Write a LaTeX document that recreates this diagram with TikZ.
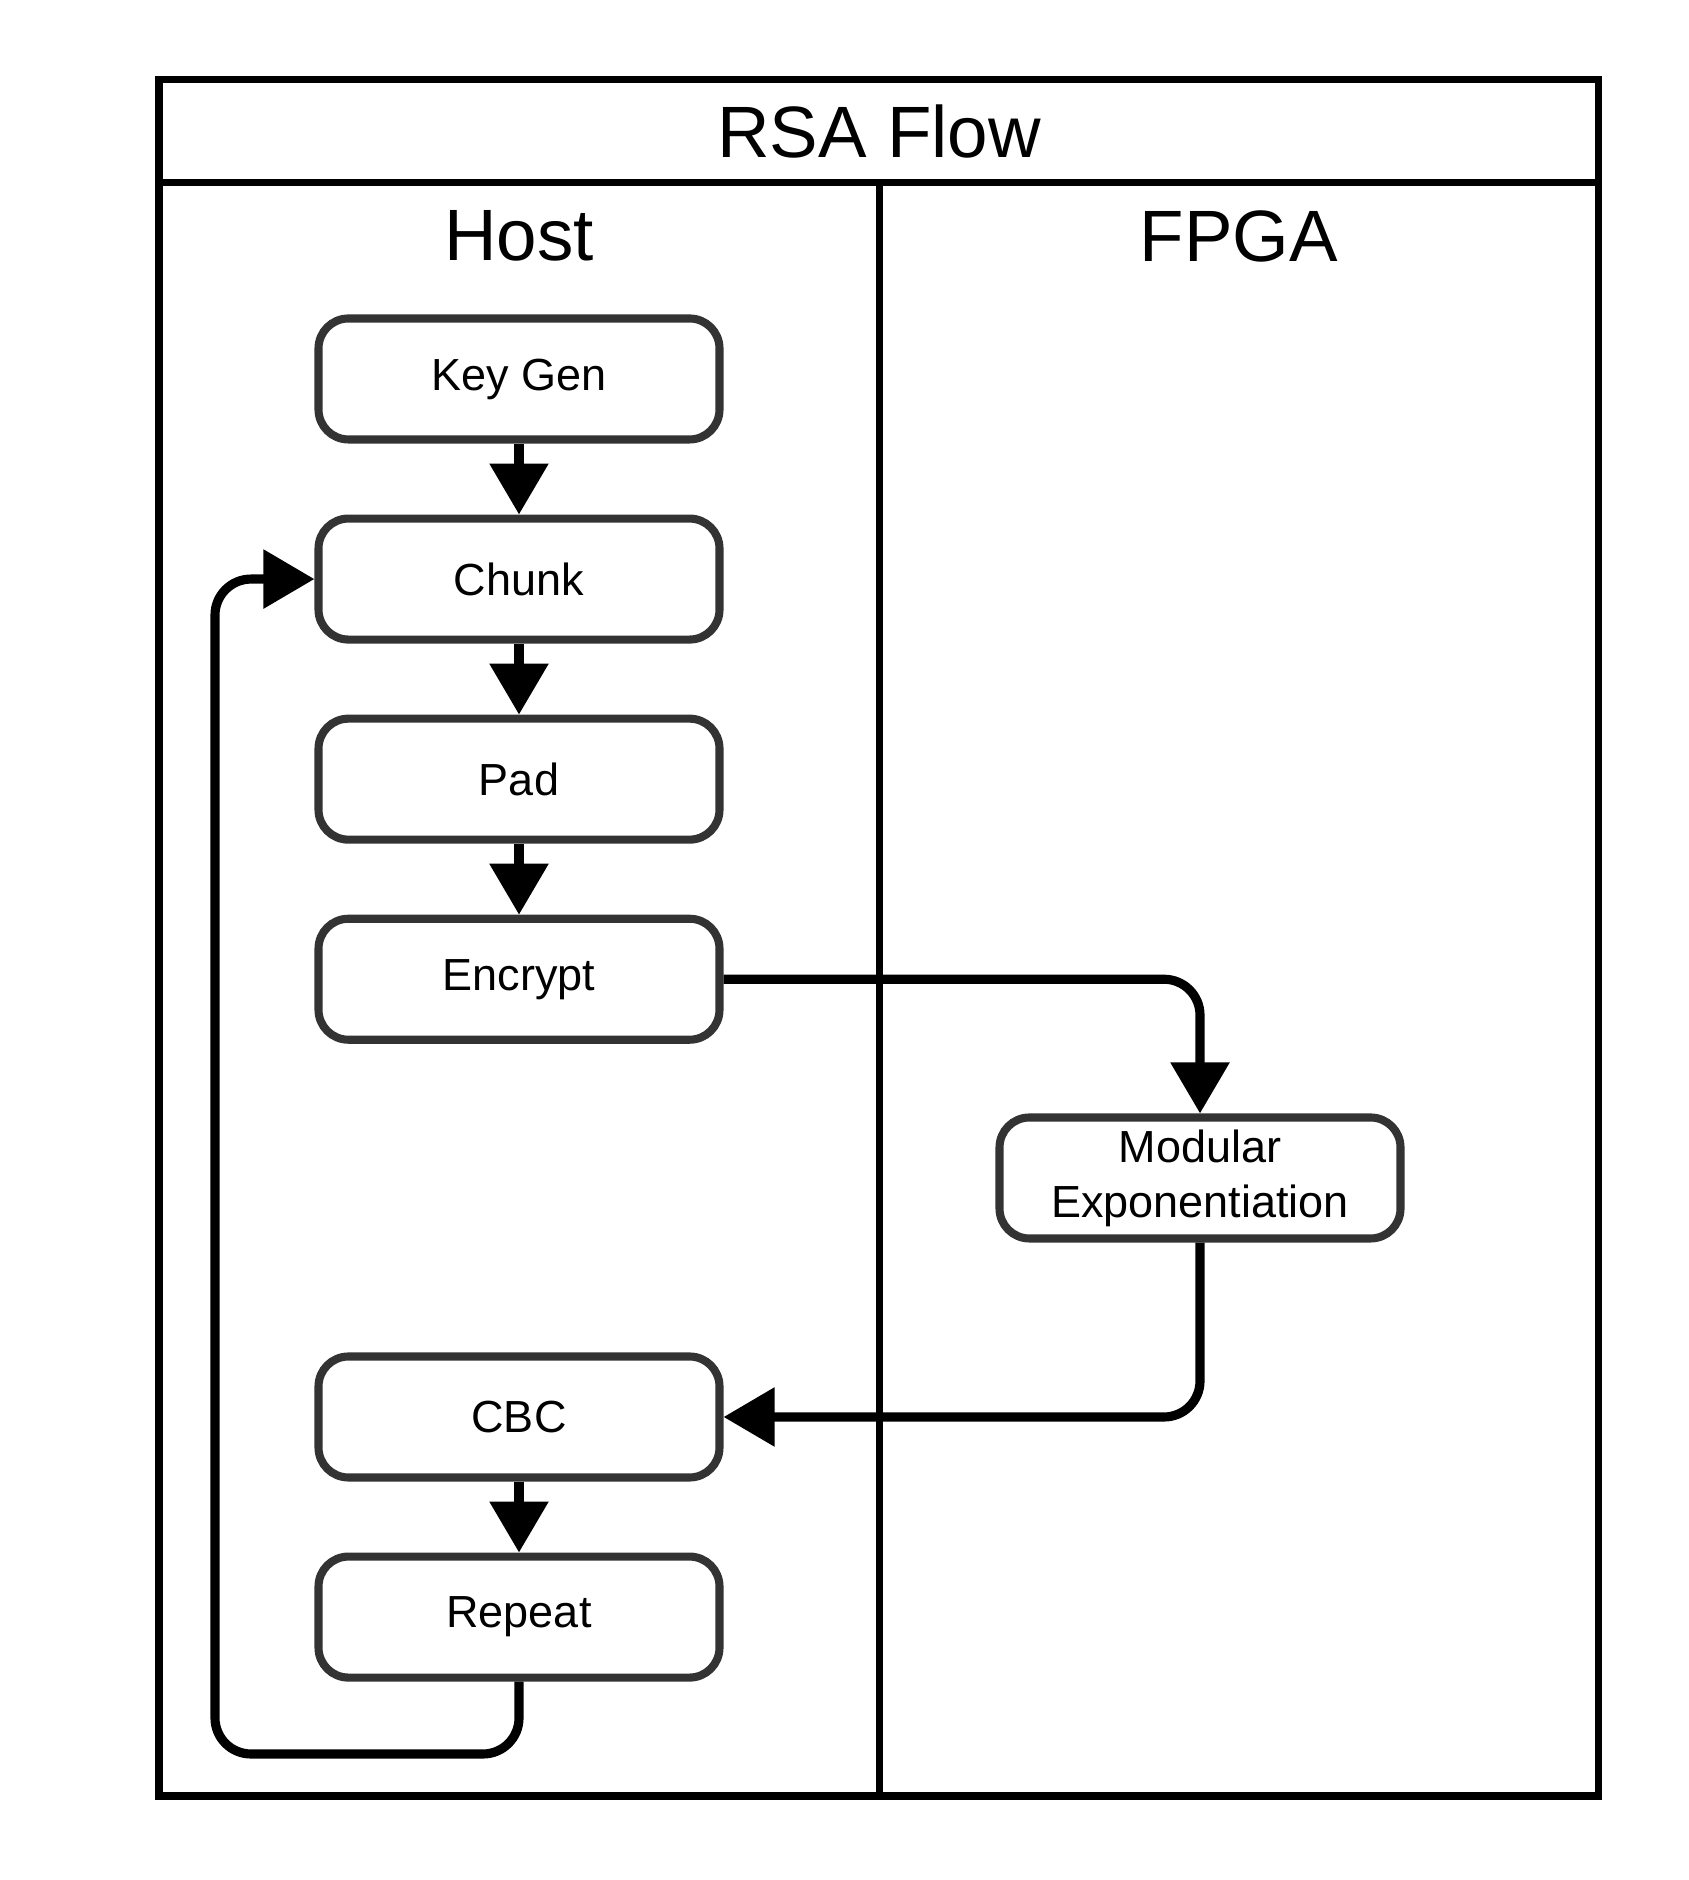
\documentclass[tikz,border=0pt]{standalone}
\usepackage{fontspec}
\setmainfont{Liberation Sans}
\usetikzlibrary{positioning, arrows.meta}
\definecolor{boxEdge}{HTML}{333333}
\tikzset{
    LaneTitle/.style={font=\fontsize{20.7}{24}\selectfont},
    StepBox/.style={draw=boxEdge, line width=2.3pt, rounded corners=0.3cm, minimum width=4.01cm, minimum height=1.21cm, align=center, font=\fontsize{12.8}{15.6}\selectfont, fill=white},
    FlowArrow/.style={-{Triangle[length=0.51cm, width=0.57cm]}, line width=2.6pt, rounded corners=0.36cm},
    FrameLine/.style={line width=2pt}
}

\begin{document}
\begin{tikzpicture}
    \useasboundingbox (0, 0) rectangle (16.88, 18.80);

    % 泳道框架
    \draw[FrameLine] (1.59, 0.84) rectangle (15.98, 18.00);
    \draw[FrameLine] (1.59, 16.97) -- (15.98, 16.97);
    \draw[FrameLine] (8.79, 0.84) -- (8.79, 16.97);

    \node[LaneTitle] (title) at (8.79, 17.48) {RSA Flow};
    \node[LaneTitle] (host) at (5.19, 16.44) {Host};
    \node[LaneTitle] (fpga) at (12.39, 16.44) {FPGA};

    % Host 步骤
    \node[StepBox] (keygen) at (5.19, 15.01) {Key Gen};
    \node[StepBox, below=0.71cm of keygen] (chunk) {Chunk};
    \node[StepBox, below=0.71cm of chunk] (pad) {Pad};
    \node[StepBox, below=0.71cm of pad] (encrypt) {Encrypt};
    \node[StepBox] (cbc) at (5.19, 4.63) {CBC};
    \node[StepBox, below=0.71cm of cbc] (repeat) {Repeat};

    % FPGA 步骤
    \node[StepBox] (modexp) at (12.00, 7.02) {Modular\\Exponentiation};

    \draw[FlowArrow] (keygen) -- (chunk);
    \draw[FlowArrow] (chunk) -- (pad);
    \draw[FlowArrow] (pad) -- (encrypt);
    \draw[FlowArrow] (encrypt.east) -| (modexp.north);
    \draw[FlowArrow] (modexp.south) |- (cbc.east);
    \draw[FlowArrow] (cbc) -- (repeat);

    % 循环回到 Chunk
    \coordinate (loopcorner) at (2.15, 1.26);
    \draw[FlowArrow] (repeat.south) |- (loopcorner) |- (chunk.west);
\end{tikzpicture}
\end{document}
